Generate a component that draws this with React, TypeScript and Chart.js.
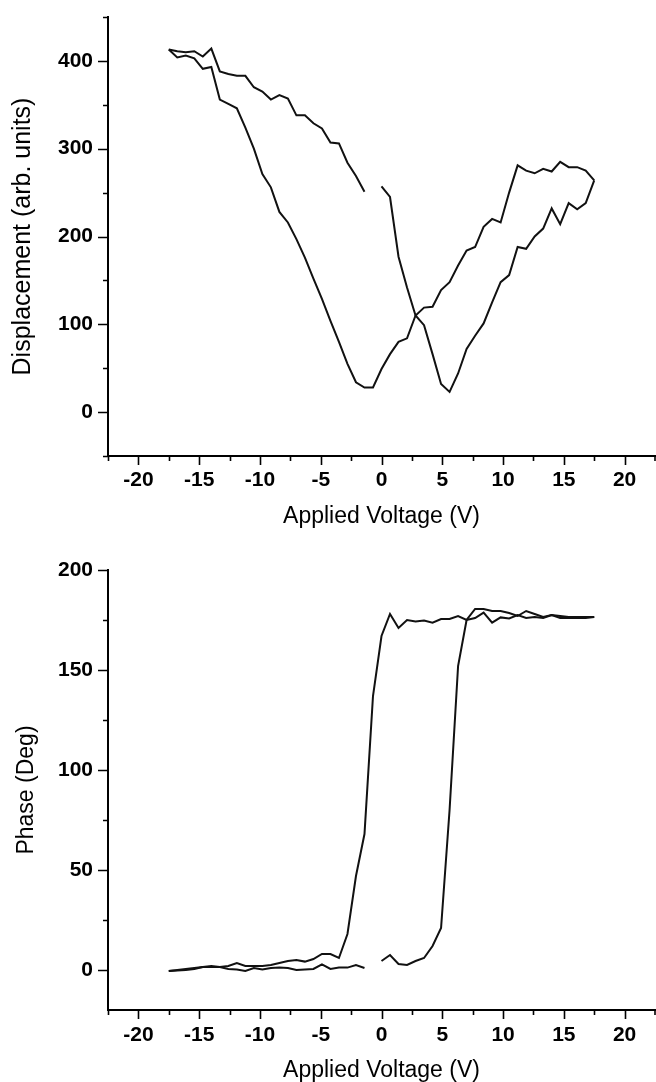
import React, { useEffect, useRef } from 'react';
import { Chart, registerables } from 'chart.js';

Chart.register(...registerables);

// Voltage sweeps (V)
const voltageUp = [0, 0.7, 1.4, 2.1, 2.8, 3.5, 4.2, 4.9, 5.6, 6.3, 7.0, 7.7, 8.4, 9.1, 9.8, 10.5, 11.2, 11.9, 12.6, 13.3, 14.0, 14.7, 15.4, 16.1, 16.8, 17.5];
const voltageDown = [17.5, 16.8, 16.1, 15.4, 14.7, 14.0, 13.3, 12.6, 11.9, 11.2, 10.5, 9.8, 9.1, 8.4, 7.7, 7.0, 6.3, 5.6, 4.9, 4.2, 3.5, 2.8, 2.1, 1.4, 0.7, 0, -0.7, -1.4, -2.1, -2.8, -3.5, -4.2, -4.9, -5.6, -6.3, -7.0, -7.7, -8.4, -9.1, -9.8, -10.5, -11.2, -11.9, -12.6, -13.3, -14.0, -14.7, -15.4, -16.1, -16.8, -17.5];
const voltageReturn = [-17.5, -16.8, -16.1, -15.4, -14.7, -14.0, -13.3, -12.6, -11.9, -11.2, -10.5, -9.8, -9.1, -8.4, -7.7, -7.0, -6.3, -5.6, -4.9, -4.2, -3.5, -2.8, -2.1, -1.4];

// Displacement (arb. units)
const dispUp = [257, 245, 177, 142, 110, 99, 66, 32, 23, 44, 72, 87, 101, 125, 148, 156, 188, 186, 200, 209, 232, 214, 238, 231, 238, 264];
const dispDown = [264, 275, 279, 279, 285, 274, 277, 272, 275, 281, 250, 216, 220, 211, 188, 184, 167, 148, 139, 120, 119, 110, 84, 80, 66, 49, 28, 28, 34, 55, 80, 104, 129, 152, 176, 197, 216, 228, 256, 271, 300, 324, 346, 351, 356, 393, 391, 403, 406, 404, 413];
const dispReturn = [413, 411, 410, 411, 405, 414, 388, 385, 383, 383, 370, 365, 356, 361, 357, 338, 338, 329, 323, 307, 306, 284, 269, 251];

// Phase (Deg)
const phaseUp = [4.5, 7.5, 3, 2.5, 4.5, 6, 12, 21, 80, 152, 175, 180.5, 180.5, 179.5, 179.5, 178.5, 177, 179.5, 178, 176.5, 177.5, 177, 176.5, 176.5, 176.5, 176.5];
const phaseDown = [176.5, 176, 176, 176, 176, 177.5, 176, 176.5, 176, 177.5, 175.8, 176.3, 173.7, 178.7, 176, 175, 177, 175.5, 175.5, 173.7, 174.7, 174.2, 175, 171, 178, 167, 137, 68, 47, 18, 6, 8, 8, 5.5, 4.2, 5, 4.5, 3.5, 2.5, 2, 2, 2, 3.5, 2, 1.5, 2, 1.5, 1, 0.5, 0, -0.5];
const phaseReturn = [-0.5, -0.3, 0, 0.5, 1.5, 1.5, 1.5, 0.5, 0.3, -0.5, 1, 0.3, 1, 1.2, 1, 0, 0.3, 0.5, 2.8, 0.5, 1.2, 1.2, 2.5, 1];

const toPoints = (xs: number[], ys: number[]) => xs.map((x, i) => ({ x, y: ys[i] }));

const TICK_FONT = { family: "'Liberation Sans', Arial, sans-serif", weight: 'bold' as const, size: 21 };

const isMult = (v: number, m: number) => Math.abs(v / m - Math.round(v / m)) < 1e-6;

const tickMarks = {
  id: 'tickMarks',
  afterDraw(chart: any, _args: any, opts: any) {
    const { ctx } = chart;
    const xs = chart.scales.x;
    const ys = chart.scales.y;
    ctx.save();
    ctx.strokeStyle = '#000';
    ctx.lineWidth = 1.6;
    ctx.beginPath();
    for (let k = Math.ceil(xs.min / opts.xMinor - 1e-9); k * opts.xMinor <= xs.max + 1e-9; k++) {
      const v = k * opts.xMinor;
      const px = Math.min(Math.round(xs.getPixelForValue(v)) + 0.5, chart.width - 1);
      const len = isMult(v, opts.xMajor) ? 9 : 5;
      ctx.moveTo(px, xs.top);
      ctx.lineTo(px, xs.top + len);
    }
    for (let k = Math.ceil(ys.min / opts.yMinor - 1e-9); k * opts.yMinor <= ys.max + 1e-9; k++) {
      const v = k * opts.yMinor;
      const py = Math.round(ys.getPixelForValue(v)) + 0.5;
      const len = isMult(v, opts.yMajor) ? 10 : 5;
      ctx.moveTo(ys.right, py);
      ctx.lineTo(ys.right - len, py);
    }
    ctx.stroke();
    ctx.restore();
  },
};

type PanelProps = {
  datasets: { x: number[]; y: number[] }[];
  yMin: number;
  yMax: number;
  yMinor: number;
  yMajor: number;
  yTitle: string;
  yTitleSize: number;
  yTitlePad: number;
  padTop: number;
  xHeight: number;
  xLabelPad: number;
  xTitlePad: number;
};

function Panel(p: PanelProps) {
  const ref = useRef<HTMLCanvasElement | null>(null);
  useEffect(() => {
    if (!ref.current) return;
    const chart = new Chart(ref.current, {
      type: 'scatter',
      data: {
        datasets: p.datasets.map((d) => ({
          data: toPoints(d.x, d.y),
          showLine: true,
          borderColor: '#111',
          borderWidth: 2,
          pointRadius: 0,
          tension: 0,
          fill: false,
        })),
      },
      options: {
        animation: false,
        responsive: false,
        maintainAspectRatio: false,
        devicePixelRatio: 1,
        layout: { padding: { top: p.padTop, right: 1, left: 0, bottom: 0 } },
        plugins: {
          legend: { display: false },
          tooltip: { enabled: false },
          tickMarks: { xMinor: 2.5, xMajor: 5, yMinor: p.yMinor, yMajor: p.yMajor },
        } as any,
        scales: {
          x: {
            type: 'linear',
            min: -22.5,
            max: 22.5,
            afterFit: (s: any) => {
              s.height = p.xHeight;
              s.paddingLeft = 0;
              s.paddingRight = 0;
              s.paddingTop = 0;
              s.paddingBottom = 0;
            },
            grid: { display: false, drawTicks: false, tickLength: 0 },
            border: { display: true, color: '#000', width: 2 },
            ticks: {
              stepSize: 2.5,
              autoSkip: false,
              maxRotation: 0,
              padding: p.xLabelPad,
              color: '#000',
              font: TICK_FONT,
              callback: (v: any) => (isMult(v, 5) ? String(Math.round(v)) : null),
            },
            title: {
              display: true,
              text: 'Applied Voltage (V)',
              color: '#000',
              font: { family: "'Liberation Sans', Arial, sans-serif", size: 23, lineHeight: 1 },
              padding: { top: 0, bottom: p.xTitlePad },
            },
          },
          y: {
            type: 'linear',
            min: p.yMin,
            max: p.yMax,
            afterFit: (s: any) => {
              s.width = 108;
              s.paddingTop = 0;
              s.paddingBottom = 0;
              s.paddingLeft = 0;
              s.paddingRight = 0;
            },
            grid: { display: false, drawTicks: false, tickLength: 0 },
            border: { display: true, color: '#000', width: 2 },
            ticks: {
              stepSize: p.yMinor,
              autoSkip: false,
              padding: 15,
              color: '#000',
              font: TICK_FONT,
              callback: (v: any) => (isMult(v, p.yMajor) && v >= 0 ? String(Math.round(v)) : null),
            },
            title: {
              display: true,
              text: p.yTitle,
              color: '#000',
              font: { family: "'Liberation Sans', Arial, sans-serif", size: p.yTitleSize, lineHeight: 1 },
              padding: { top: p.yTitlePad, bottom: 0 },
            },
          },
        },
      },
      plugins: [tickMarks],
    } as any);
    return () => chart.destroy();
  }, []);
  return <canvas ref={ref} width={656} height={541} style={{ display: 'block', width: 656, height: 541 }} />;
}

export default function App() {
  return (
    <div style={{ position: 'absolute', left: 0, top: 0, width: 656, height: 1082, background: '#fff' }}>
      <Panel
        datasets={[
          { x: voltageUp, y: dispUp },
          { x: voltageDown, y: dispDown },
          { x: voltageReturn, y: dispReturn },
        ]}
        yMin={-50}
        yMax={450}
        yMinor={50}
        yMajor={100}
        yTitle="Displacement (arb. units)"
        yTitleSize={25}
        yTitlePad={11}
        padTop={17}
        xHeight={85}
        xLabelPad={12}
        xTitlePad={13}
      />
      <Panel
        datasets={[
          { x: voltageUp, y: phaseUp },
          { x: voltageDown, y: phaseDown },
          { x: voltageReturn, y: phaseReturn },
        ]}
        yMin={-20}
        yMax={200}
        yMinor={25}
        yMajor={50}
        yTitle="Phase (Deg)"
        yTitleSize={23}
        yTitlePad={15}
        padTop={29}
        xHeight={72}
        xLabelPad={13}
        xTitlePad={0}
      />
    </div>
  );
}
